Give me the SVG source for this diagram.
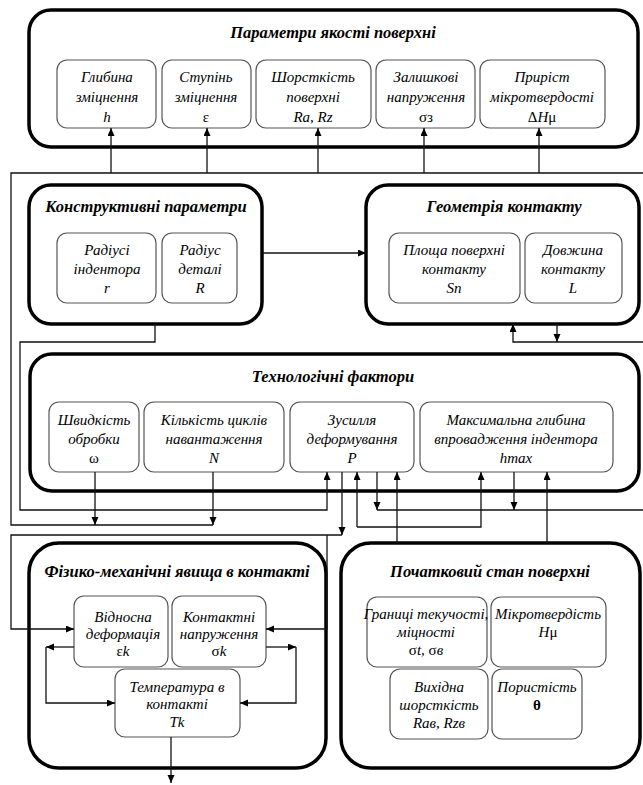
<svg xmlns="http://www.w3.org/2000/svg" width="643" height="785" viewBox="0 0 643 785">
<style>
.big{fill:#fff;stroke:#000;stroke-width:3.5}
.sub{fill:#fff;stroke:#555;stroke-width:1.2}
.t{font-family:"Liberation Serif","Times New Roman",serif;font-style:italic;font-size:15px;text-anchor:middle;fill:#000}
.h{font-family:"Liberation Serif","Times New Roman",serif;font-style:italic;font-weight:bold;font-size:16.5px;text-anchor:middle;fill:#000}
.n{font-style:normal}
.c{fill:none;stroke:#111;stroke-width:1.3}
.a{fill:none;stroke:#111;stroke-width:1.3;marker-end:url(#arr)}
</style>
<defs>
<marker id="arr" markerUnits="userSpaceOnUse" markerWidth="8" markerHeight="8" refX="8" refY="3.5" orient="auto">
<path d="M0,0 L8,3.5 L0,7 z" fill="#000"/>
</marker>
</defs>
<rect width="643" height="785" fill="#fff"/>

<g id="quality">
<rect class="big" x="29" y="10" width="609" height="137" rx="22"/>
<text class="h" x="333" y="38">Параметри якості поверхні</text>
<g id="q_h"><rect class="sub" x="57" y="60" width="99" height="68" rx="10"/>
<text class="t" x="107" y="82">Глибина</text><text class="t" x="107" y="102">зміцнення</text><text class="t" x="107" y="122">h</text></g>
<g id="q_eps"><rect class="sub" x="162" y="60" width="89" height="68" rx="10"/>
<text class="t" x="206" y="82">Ступінь</text><text class="t" x="206" y="102">зміцнення</text><text class="t n" x="206" y="122">ε</text></g>
<g id="q_rough"><rect class="sub" x="256" y="60" width="115" height="68" rx="10"/>
<text class="t" x="313" y="82">Шорсткість</text><text class="t" x="313" y="102">поверхні</text><text class="t" x="313" y="122">Ra, Rz</text></g>
<g id="q_res"><rect class="sub" x="376" y="60" width="99" height="68" rx="10"/>
<text class="t" x="426" y="82">Залишкові</text><text class="t" x="426" y="102">напруження</text><text class="t n" x="426" y="122">σз</text></g>
<g id="q_micro"><rect class="sub" x="480" y="60" width="125" height="68" rx="10"/>
<text class="t" x="542" y="82">Приріст</text><text class="t" x="542" y="102">мікротвердості</text><text class="t" x="542" y="122"><tspan class="n">Δ</tspan>H<tspan class="n">μ</tspan></text></g>
</g>

<g id="design">
<rect class="big" x="29" y="185" width="233" height="139" rx="22"/>
<text class="h" x="146" y="212">Конструктивні параметри</text>
<g id="d_r"><rect class="sub" x="57" y="233" width="99" height="70" rx="10"/>
<text class="t" x="107" y="255">Радіусі</text><text class="t" x="107" y="274">індентора</text><text class="t" x="107" y="293">r</text></g>
<g id="d_R"><rect class="sub" x="162" y="233" width="75" height="70" rx="10"/>
<text class="t" x="200" y="255">Радіус</text><text class="t" x="200" y="274">деталі</text><text class="t" x="200" y="293">R</text></g>
</g>

<g id="geometry">
<rect class="big" x="366" y="185" width="273" height="139" rx="22"/>
<text class="h" x="504" y="212">Геометрія контакту</text>
<g id="g_S"><rect class="sub" x="389" y="233" width="131" height="70" rx="10"/>
<text class="t" x="454" y="255">Площа поверхні</text><text class="t" x="454" y="274">контакту</text><text class="t" x="454" y="293">Sn</text></g>
<g id="g_L"><rect class="sub" x="525" y="233" width="97" height="70" rx="10"/>
<text class="t" x="573" y="255">Довжина</text><text class="t" x="573" y="274">контакту</text><text class="t" x="573" y="293">L</text></g>
</g>

<g id="tech">
<rect class="big" x="30" y="354" width="609" height="137" rx="22"/>
<text class="h" x="333" y="382">Технологічні фактори</text>
<g id="t_w"><rect class="sub" x="49" y="402" width="90" height="70" rx="10"/>
<text class="t" x="94" y="425">Швидкість</text><text class="t" x="94" y="444">обробки</text><text class="t n" x="94" y="463">ω</text></g>
<g id="t_N"><rect class="sub" x="144" y="402" width="140" height="70" rx="10"/>
<text class="t" x="214" y="425">Кількість циклів</text><text class="t" x="214" y="444">навантаження</text><text class="t" x="214" y="463">N</text></g>
<g id="t_P"><rect class="sub" x="290" y="402" width="124" height="70" rx="10"/>
<text class="t" x="352" y="425">Зусилля</text><text class="t" x="352" y="444">деформування</text><text class="t" x="352" y="463">P</text></g>
<g id="t_h"><rect class="sub" x="420" y="402" width="193" height="70" rx="10"/>
<text class="t" x="516" y="425">Максимальна глибина</text><text class="t" x="516" y="444">впровадження індентора</text><text class="t" x="516" y="463">hmax</text></g>
</g>

<g id="phys">
<rect class="big" x="29" y="543" width="297" height="225" rx="30"/>
<text class="h" x="177" y="577">Фізико-механічні явища в контакті</text>
<g id="p_e"><rect class="sub" x="74" y="596" width="94" height="71" rx="10"/>
<text class="t" x="123" y="622">Відносна</text><text class="t" x="123" y="639">деформація</text><text class="t" x="123" y="656"><tspan class="n">ε</tspan>k</text></g>
<g id="p_s"><rect class="sub" x="172" y="596" width="94" height="71" rx="10"/>
<text class="t" x="219" y="622">Контактні</text><text class="t" x="219" y="639">напруження</text><text class="t" x="219" y="656"><tspan class="n">σ</tspan>k</text></g>
<g id="p_T"><rect class="sub" x="115" y="669" width="125" height="68" rx="10"/>
<text class="t" x="177" y="692">Температура в</text><text class="t" x="177" y="709">контакті</text><text class="t" x="177" y="727">Tk</text></g>
</g>

<g id="initial">
<rect class="big" x="341" y="543" width="299" height="225" rx="30"/>
<text class="h" x="490" y="577">Початковий стан поверхні</text>
<g id="i_sig"><rect class="sub" x="367" y="597" width="120" height="70" rx="10"/>
<text class="t" x="426" y="619">Границі текучості,</text><text class="t" x="426" y="637">міцності</text><text class="t" x="426" y="655"><tspan class="n">σ</tspan>t, <tspan class="n">σ</tspan>в</text></g>
<g id="i_H"><rect class="sub" x="491" y="597" width="115" height="70" rx="10"/>
<text class="t" x="548" y="619">Мікротвердість</text><text class="t" x="548" y="637">H<tspan class="n">μ</tspan></text></g>
<g id="i_R"><rect class="sub" x="390" y="669" width="98" height="70" rx="10"/>
<text class="t" x="439" y="692">Вихідна</text><text class="t" x="439" y="710">шорсткість</text><text class="t" x="439" y="728">Raв, Rzв</text></g>
<g id="i_p"><rect class="sub" x="492" y="669" width="90" height="70" rx="10"/>
<text class="t" x="537" y="692">Пористість</text><text class="t n" x="537" y="710" font-weight="bold">θ</text></g>
</g>

<g id="connectors">
<path class="c" d="M643,173 H11 V525 H213"/>
<path class="a" d="M111,173 V128"/>
<path class="a" d="M207,173 V128"/>
<path class="a" d="M318,173 V128"/>
<path class="a" d="M424,173 V128"/>
<path class="a" d="M539,173 V128"/>
<path class="a" d="M95,472 V525"/>
<path class="a" d="M213,472 V525"/>
<path class="a" d="M262,253 H366"/>
<path class="a" d="M155,324 V342 H20 V510 H327 V472"/>
<path class="a" d="M643,342 H513 V324"/>
<path class="a" d="M557,324 V342"/>
<path class="c" d="M643,510 H377"/>
<path class="a" d="M377,472 V510"/>
<path class="a" d="M514,472 V510"/>
<path class="a" d="M357,527 H481 V472"/>
<path class="a" d="M357,527 V472"/>
<path class="a" d="M397,543 V472"/>
<path class="a" d="M547,543 V472"/>
<path class="a" d="M342,472 V535"/>
<path class="a" d="M342,535 H11 V629 H74"/>
<path class="a" d="M327,535 V629 H266"/>
<path class="a" d="M74,647 H46"/>
<path class="a" d="M46,647 V703 H115"/>
<path class="a" d="M266,647 H296"/>
<path class="a" d="M296,647 V703 H240"/>
<path class="a" d="M171,737 V783"/>
</g>
</svg>
